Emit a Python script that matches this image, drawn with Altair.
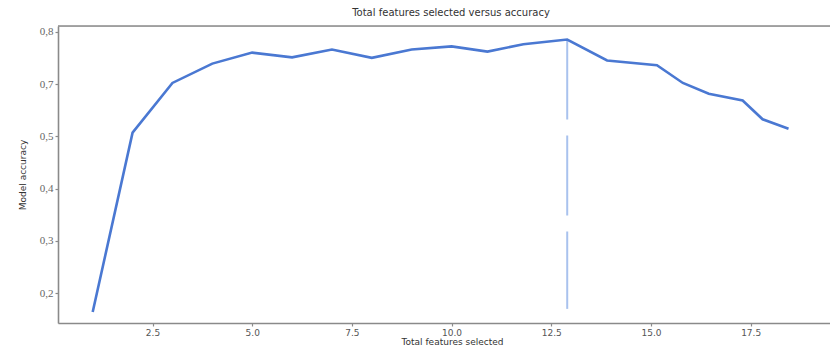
import altair as alt
import pandas as pd

# ---- data ----
features = [1, 2, 3, 4, 5, 6, 7, 8, 9, 10, 10.9, 11.8, 12.9, 13.9, 15.15, 15.8, 16.45, 17.3, 17.8, 18.45]
accuracy = [0.164, 0.514, 0.702, 0.739, 0.760, 0.751, 0.766, 0.750, 0.766, 0.772,
            0.762, 0.776, 0.785, 0.745, 0.736, 0.702, 0.663, 0.637, 0.565, 0.529]
best_features = [12.9]
marker_top = [0.785]
marker_bottom = [0.170]
y_tick_values = [0.2, 0.3, 0.4, 0.5, 0.7, 0.8]
x_tick_values = [2.5, 5.0, 7.5, 10.0, 12.5, 15.0, 17.5]

W, H = 772, 297
# axis as drawn in the picture: evenly spaced labels 0,2 0,3 0,4 0,5 0,7 0,8
y_domain = [0.143, 0.2, 0.3, 0.4, 0.5, 0.7, 0.8, 0.8109]
step = 52.3
y_range = [H, 267.2, 267.2 - step, 267.2 - 2 * step, 267.2 - 3 * step, 267.2 - 4 * step, 267.2 - 5 * step, 0]

df = pd.DataFrame({"features": features, "accuracy": accuracy})
df_mark = pd.DataFrame({"k": best_features, "top": marker_top, "bottom": marker_bottom})

x_scale = alt.Scale(domain=[0.13, 19.49], nice=False, zero=False)
y_scale = alt.Scale(domain=y_domain, range=y_range, nice=False, zero=False)

GRAY = "#8a8a8a"

x_axis = alt.Axis(values=x_tick_values, format=".1f", grid=False,
                  labelFont="DejaVu Sans", labelFontSize=9, labelColor="#555",
                  tickSize=3, tickColor=GRAY, tickWidth=1.2,
                  domainColor=GRAY, domainWidth=1.6, labelPadding=2,
                  title="Total features selected", titleFont="DejaVu Sans",
                  titleFontSize=9, titleFontWeight="normal", titleColor="#333",
                  titleX=W / 2 + 8, titleY=23, titleBaseline="bottom")

y_axis = alt.Axis(values=y_tick_values, grid=False,
                  labelExpr="replace(format(datum.value, '.1f'), '.', ',')",
                  labelFont="Liberation Serif", labelFontSize=11, labelColor="#666",
                  tickSize=3, tickColor=GRAY, tickWidth=1.2,
                  domainColor=GRAY, domainWidth=1.6, labelPadding=2,
                  title="Model accuracy", titleFont="DejaVu Sans",
                  titleFontSize=9, titleFontWeight="normal", titleColor="#333",
                  titlePadding=12)

line = alt.Chart(df).mark_line(color="#4a78d2", strokeWidth=2.6).encode(
    x=alt.X("features:Q", scale=x_scale, axis=x_axis),
    y=alt.Y("accuracy:Q", scale=y_scale, axis=y_axis),
)

marker = alt.Chart(df_mark).mark_rule(color="#a9c2ee", strokeWidth=2, strokeDash=[80, 16]).encode(
    x=alt.X("k:Q", scale=x_scale),
    y=alt.Y("top:Q", scale=y_scale),
    y2="bottom:Q",
)

top_spine = alt.Chart(df_mark).mark_rule(color=GRAY, strokeWidth=1.6).encode(
    x=alt.value(0), x2=alt.value(W), y=alt.value(0)
)

chart = alt.layer(marker, line, top_spine).properties(
    width=W, height=H,
    title=alt.TitleParams("Total features selected versus accuracy", font="DejaVu Sans",
                          fontSize=10, fontWeight="normal", color="#333",
                          anchor="middle", dx=7, offset=7),
    autosize=alt.AutoSizeParams(type="none"),
    padding={"left": 50, "top": 18, "right": 0, "bottom": 25},
).configure_view(stroke=None).configure(background="white")

chart.save("out.html", embed_options={"renderer": "svg", "actions": False})
